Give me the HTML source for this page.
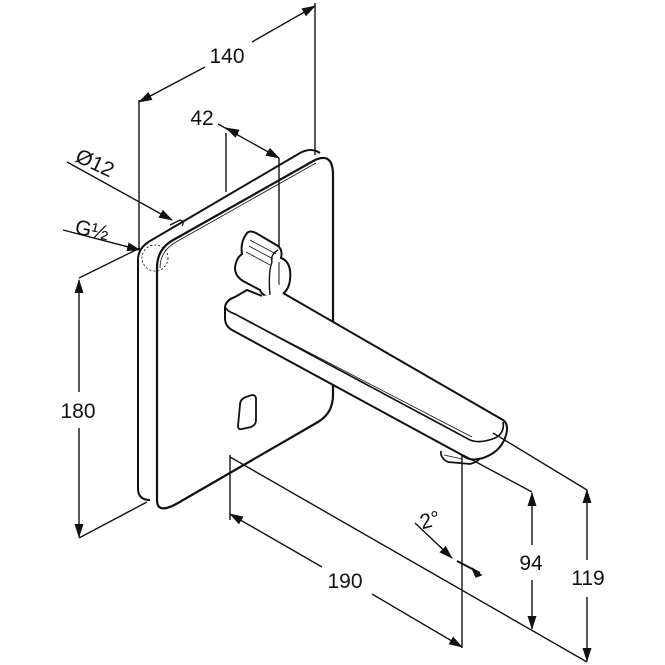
<!DOCTYPE html>
<html><head><meta charset="utf-8"><style>
html,body{margin:0;padding:0;background:#fff;}
svg{display:block;}
text{font-family:"Liberation Sans","DejaVu Sans",sans-serif;fill:#111;}
</style></head><body>
<svg width="665" height="665" viewBox="0 0 665 665" xmlns="http://www.w3.org/2000/svg">
<defs>
<marker id="a" markerWidth="14" markerHeight="9" refX="13" refY="4.5" orient="auto" markerUnits="userSpaceOnUse">
<path d="M0,0 L14,4.5 L0,9 Z" fill="#111"/></marker>
<marker id="s" markerWidth="14" markerHeight="9" refX="1" refY="4.5" orient="auto" markerUnits="userSpaceOnUse">
<path d="M14,0 L0,4.5 L14,9 Z" fill="#111"/></marker>
</defs>
<g stroke="#111" fill="none" stroke-width="1.4">
<!-- 140 -->
<line x1="139" y1="100" x2="139" y2="250"/>
<line x1="315" y1="3" x2="315" y2="155"/>
<line x1="139" y1="102" x2="205" y2="67" marker-start="url(#s)"/>
<line x1="252" y1="42" x2="315" y2="6" marker-end="url(#a)"/>
<!-- 42 -->
<line x1="226" y1="133" x2="226" y2="192"/>
<line x1="218" y1="124" x2="279" y2="158" marker-end="url(#a)"/>
<path d="M226,128 L238,134" marker-start="url(#s)"/>
<!-- Ø12 / G½ -->
<line x1="67" y1="162" x2="172" y2="220" marker-end="url(#a)"/>
<line x1="63" y1="230" x2="140" y2="250" marker-end="url(#a)"/>
<!-- 180 -->
<line x1="79" y1="278" x2="140" y2="248"/>
<line x1="79" y1="538" x2="147" y2="502"/>
<line x1="79" y1="280" x2="79" y2="392" marker-start="url(#s)"/>
<line x1="79" y1="428" x2="79" y2="537" marker-end="url(#a)"/>
<!-- plate back -->
<path d="M138,490 L138,260 Q138,248 150,241 L300,153 Q311,147 320,153" stroke-width="2"/>
<path d="M138,490 Q139,500 150,500" stroke-width="2"/>
<!-- plate front -->
<path d="M157,500 L157,268 Q157,248 175,239 L315,160 Q333,152 333,175 L333,395 Q333,413 318,422 L178,503 Q157,515 157,500 Z" fill="#fff" stroke-width="2.2"/>
<path d="M160,268 Q160,251 176,242 L316,163" stroke-width="0.8"/>
<circle cx="155" cy="258" r="13" stroke-width="0.8" stroke-dasharray="2,2"/>
<path d="M170,225 L180,220 Q185,222 182,226" stroke-width="1.3"/>
<line x1="279" y1="158" x2="279" y2="292"/>
<!-- sensor window -->
<path d="M240,405 Q240,399 246,397 L252,395 Q256,395 256,399 L256,420 Q256,425 251,427 L242,429 Q238,430 238,426 Z" stroke-width="1.8"/>
<!-- knob -->
<path d="M247,233 Q250,230 256,233 L278,246 Q283,250 281,258 Q292,262 290,280 Q288,296 272,298 Q262,296 260,290 L243,281 Q235,276 235,268 Q236,258 242,254 Q240,242 247,233 Z" fill="#fff" stroke-width="2"/>
<path d="M278,250 Q270,255 272,262 Q268,272 270,296" stroke-width="1.4"/>
<path d="M250,240 L276,254 M249,246 L273,259 M246,252 L270,265" stroke-width="0.8"/>
<line x1="279" y1="262" x2="279" y2="285" stroke-width="1"/>
<!-- spout -->
<path d="M283,293 L503,420 Q510,425 505,438 Q500,452 483,458 Q470,462 462,455 L232,330 Q225,326 225,318 L225,307 Q226,300 235,297 L247,290 L262,296" fill="#fff" stroke-width="2"/>
<path d="M225,307 Q228,312 235,314 L470,440 Q480,444 495,438 Q505,433 503,422" stroke-width="1.7"/>
<path d="M229,311 L472,437" stroke-width="0.8"/>
<path d="M441,451 Q440,458 448,462 L470,464 Q478,462 480,458" stroke-width="1.7"/>
<path d="M444,455 L462,459" stroke-width="0.8"/>
<!-- 190 -->
<line x1="230" y1="455" x2="230" y2="520"/>
<line x1="462" y1="455" x2="462" y2="648"/>
<line x1="230" y1="514" x2="322" y2="567" marker-start="url(#s)"/>
<line x1="372" y1="594" x2="462" y2="647" marker-end="url(#a)"/>
<!-- long line -->
<line x1="230" y1="457" x2="587" y2="662"/>
<!-- 94 -->
<line x1="463" y1="455" x2="532" y2="492"/>
<line x1="532" y1="493" x2="532" y2="545" marker-start="url(#s)"/>
<line x1="532" y1="580" x2="532" y2="629" marker-end="url(#a)"/>
<!-- 119 -->
<line x1="493" y1="433" x2="587" y2="490"/>
<line x1="587" y1="490" x2="587" y2="560" marker-start="url(#s)"/>
<line x1="587" y1="597" x2="587" y2="661" marker-end="url(#a)"/>
<!-- 2° -->
<path d="M415,523 Q433,540 452,558" marker-end="url(#a)"/>
<line x1="457" y1="561" x2="480" y2="573" stroke-width="2"/>
<path d="M472,568 L481,575 L476,577 Z" fill="#111"/>
</g>
<g font-size="21">
<text x="227" y="63" text-anchor="middle">140</text>
<text x="202" y="125" text-anchor="middle">42</text>
<text x="95" y="170" text-anchor="middle" transform="rotate(25 95 163)">Ø12</text>
<text x="92" y="237" text-anchor="middle" transform="rotate(12 92 230)">G½</text>
<text x="78" y="418" text-anchor="middle">180</text>
<text x="345" y="588" text-anchor="middle">190</text>
<text x="531" y="570" text-anchor="middle">94</text>
<text x="588" y="585" text-anchor="middle">119</text>
<text x="430" y="527" text-anchor="middle" transform="rotate(-15 430 520)">2°</text>
</g>
</svg>
</body></html>
